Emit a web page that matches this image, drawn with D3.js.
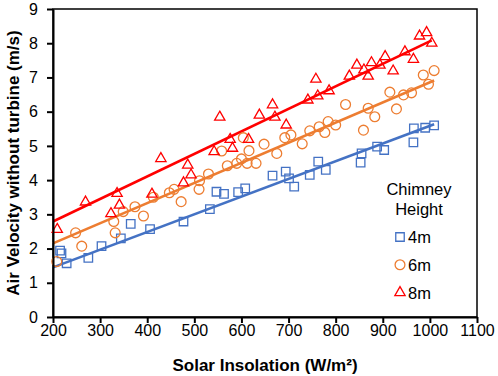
<!DOCTYPE html>
<html>
<head>
<meta charset="utf-8">
<script src="https://cdn.jsdelivr.net/npm/d3@7"></script>
<style>
  body { margin: 0; background: #fff; }
  svg { display: block; font-family: Arial, "Liberation Sans", sans-serif; }
</style>
</head>
<body>
<svg id="chart" width="498" height="376"></svg>
<script>
// ---- data ----
const seriesNames = ["4m", "6m", "8m"];
const xTicks = [200, 300, 400, 500, 600, 700, 800, 900, 1000, 1100];
const yTicks = [0, 1, 2, 3, 4, 5, 6, 7, 8, 9];

const x4m = [215,218,229,275,303,344,365,406,477,533,547,563,593,608,666,694,701,712,745,763,779,853,855,888,903,965,966,990,1009];
const y4m = [1.94,1.86,1.57,1.73,2.07,2.30,2.72,2.57,2.79,3.15,3.66,3.60,3.65,3.76,4.13,4.25,4.05,3.81,4.15,4.54,4.30,4.51,4.78,4.98,4.88,5.10,5.51,5.53,5.60];

const x6m = [208,248,261,329,332,349,374,392,413,447,457,472,510,511,530,558,570,590,600,604,612,616,631,648,675,692,705,729,745,765,777,784,800,821,859,869,883,915,929,944,961,986,997,1009];
const y6m = [1.62,2.46,2.07,2.79,2.46,3.08,3.22,2.95,3.50,3.63,3.73,3.37,3.73,3.98,4.18,4.85,4.42,4.49,4.62,5.24,4.49,4.86,4.49,5.05,4.78,5.24,5.32,5.06,5.44,5.56,5.39,5.71,5.61,6.21,5.46,6.10,5.85,6.57,6.08,6.49,6.55,7.07,6.80,7.20];

const x8m = [209,269,323,336,341,410,429,477,486,493,542,554,576,581,615,638,666,671,695,741,758,762,786,829,845,860,869,876,894,905,922,947,965,978,993,1004];
const y8m = [2.56,3.36,3.02,3.61,3.27,3.59,4.63,3.92,4.44,4.15,4.83,5.84,5.19,4.93,5.19,5.90,6.20,5.84,5.61,6.34,6.95,6.46,6.61,7.04,7.36,7.22,7.04,7.43,7.36,7.61,7.19,7.75,7.53,8.21,8.31,8.00];

// linear trendlines: start x, end x, slope, intercept
const trendStart = [200, 200, 200];
const trendEnd = [1009, 1009, 1004];
const trendSlope = [0.005167, 0.005884, 0.006584];
const trendIntercept = [0.417, 0.973, 1.473];

const colors = ["#4472C4", "#ED7D31", "#FF0000"];
const shapes = [d3.symbolSquare, d3.symbolCircle, d3.symbolTriangle];
const shapeSizes = [72, 76, 46];

// ---- layout ----
const svg = d3.select("#chart");
const L = 53, R = 477, T = 9, B = 317;
const x = d3.scaleLinear().domain([200, 1100]).range([L, R]);
const y = d3.scaleLinear().domain([0, 9]).range([B, T]);

const xs = [x4m, x6m, x8m];
const ys = [y4m, y6m, y8m];

// frame
svg.append("rect").attr("x", L).attr("y", T).attr("width", R - L).attr("height", B - T)
  .attr("fill", "none").attr("stroke", "#000").attr("stroke-width", 1.5);

// trendlines
seriesNames.forEach((s, i) => {
  const pts = [trendStart[i], trendEnd[i]].map(v => [v, trendIntercept[i] + trendSlope[i] * v]);
  svg.append("path")
    .attr("d", d3.line().x(d => x(d[0])).y(d => y(d[1]))(pts))
    .attr("stroke", colors[i]).attr("stroke-width", 2.6).attr("fill", "none");
});

// markers
seriesNames.forEach((s, i) => {
  const data = xs[i].map((v, j) => [v, ys[i][j]]);
  svg.append("g").selectAll("path").data(data).join("path")
    .attr("transform", d => `translate(${x(d[0])},${y(d[1])})`)
    .attr("d", d3.symbol().type(shapes[i]).size(shapeSizes[i]))
    .attr("fill", "none").attr("stroke", colors[i]).attr("stroke-width", 1.3);
});

// axes
const xAxis = svg.append("g").attr("transform", `translate(0,${B})`)
  .call(d3.axisBottom(x).tickValues(xTicks).tickFormat(d3.format("d")).tickSize(6).tickPadding(2).tickSizeOuter(0));
const yAxis = svg.append("g").attr("transform", `translate(${L},0)`)
  .call(d3.axisLeft(y).tickValues(yTicks).tickFormat(d3.format("d")).tickSize(6).tickPadding(9).tickSizeOuter(0));
[xAxis, yAxis].forEach(a => {
  a.select(".domain").attr("stroke", "#000").attr("stroke-width", 2);
  a.selectAll(".tick line").attr("stroke", "#000").attr("stroke-width", 2);
  a.selectAll(".tick text").attr("fill", "#000").style("font-size", "16px")
    .style("font-family", "Arial, 'Liberation Sans', sans-serif");
});

// axis titles
svg.append("text").attr("x", (L + R) / 2).attr("y", 371).attr("text-anchor", "middle")
  .style("font-size", "17px").style("font-weight", "bold").text("Solar Insolation (W/m²)");
svg.append("text").attr("transform", `translate(19,${(T + B) / 2}) rotate(-90)`)
  .attr("text-anchor", "middle")
  .style("font-size", "17px").style("font-weight", "bold").text("Air Velocity without turbine (m/s)");

// legend
const lg = svg.append("g");
lg.append("text").attr("x", 419).attr("y", 195).attr("text-anchor", "middle")
  .style("font-size", "16.5px").text("Chimney");
lg.append("text").attr("x", 419).attr("y", 215).attr("text-anchor", "middle")
  .style("font-size", "16.5px").text("Height");
seriesNames.forEach((s, i) => {
  const cy = 237 + i * 27.8;
  lg.append("path").attr("transform", `translate(400,${cy})`)
    .attr("d", d3.symbol().type(shapes[i]).size(shapeSizes[i]))
    .attr("fill", "none").attr("stroke", colors[i]).attr("stroke-width", 1.3);
  lg.append("text").attr("x", 408).attr("y", cy + 6).style("font-size", "16.5px").text(s);
});
</script>
</body>
</html>
